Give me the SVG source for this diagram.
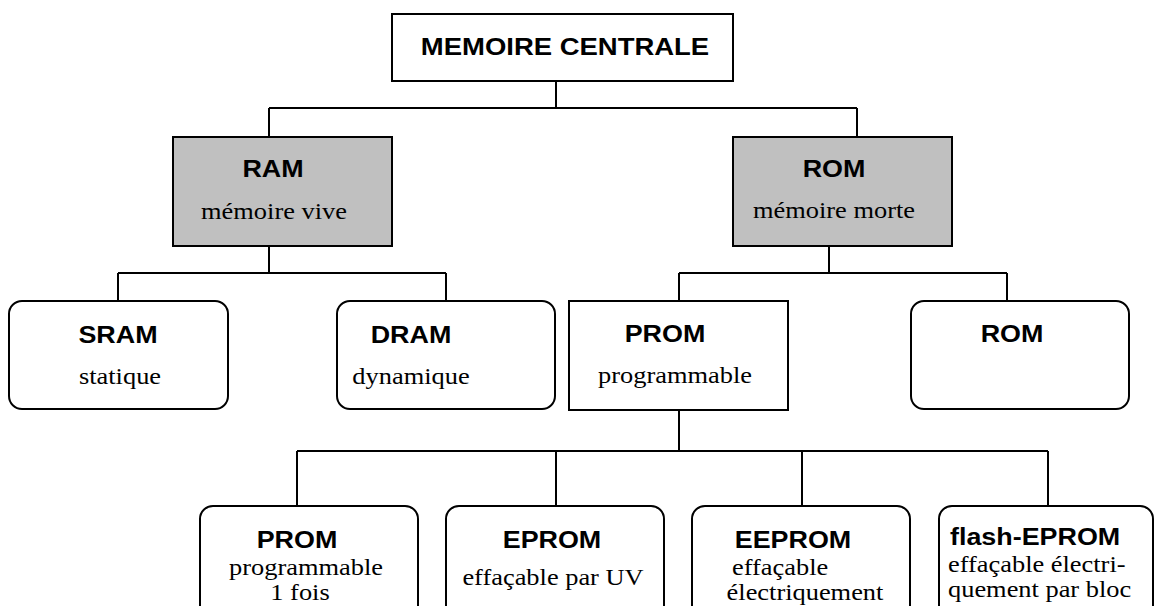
<svg xmlns="http://www.w3.org/2000/svg" width="1155" height="606" viewBox="0 0 1155 606">
  <style>
    .box { fill: #ffffff; stroke: #000000; stroke-width: 2; }
    .grey { fill: #c0c0c0; stroke: #000000; stroke-width: 2; }
    .wire { fill: none; stroke: #000000; stroke-width: 2; }
    .t { font-family: "Liberation Sans", Arial, sans-serif; font-weight: bold; font-size: 24px; fill: #000; }
    .s { font-family: "Liberation Serif", "Times New Roman", serif; font-size: 24px; fill: #000; }
    .c { text-anchor: middle; }
  </style>

  <!-- tree connectors -->
  <g id="connectors">
    <path class="wire" d="M556 81 V108 M269 108 H857 M269 108 V137 M857 108 V137"/>
    <path class="wire" d="M269 246 V273 M118 273 H446 M118 273 V301 M446 273 V301"/>
    <path class="wire" d="M829 246 V273 M679 273 H1007 M679 273 V301 M1007 273 V301"/>
    <path class="wire" d="M679 410 V451 M297 451 H1048 M297 451 V506 M556 451 V506 M802 451 V506 M1048 451 V506"/>
  </g>

  <g id="memoire-centrale">
    <rect class="box" x="392" y="14" width="341" height="67"/>
    <text class="t c" transform="matrix(1.145 0 0 1 565 54.5)">MEMOIRE CENTRALE</text>
  </g>

  <g id="ram">
    <rect class="grey" x="173" y="137" width="219" height="109"/>
    <text class="t c" transform="matrix(1.12 0 0 1 273 177)">RAM</text>
    <text class="s c" transform="matrix(1.1 0 0 1 274 219)">mémoire vive</text>
  </g>

  <g id="rom-main">
    <rect class="grey" x="733" y="137" width="219" height="109"/>
    <text class="t c" transform="matrix(1.12 0 0 1 834 177)">ROM</text>
    <text class="s c" transform="matrix(1.1 0 0 1 834 218)">mémoire morte</text>
  </g>

  <g id="sram">
    <rect class="box" x="9" y="301" width="219" height="108" rx="13"/>
    <text class="t c" transform="matrix(1.12 0 0 1 118 343)">SRAM</text>
    <text class="s c" transform="matrix(1.1 0 0 1 120 384)">statique</text>
  </g>

  <g id="dram">
    <rect class="box" x="337" y="301" width="218" height="108" rx="13"/>
    <text class="t c" transform="matrix(1.12 0 0 1 411 343)">DRAM</text>
    <text class="s c" transform="matrix(1.1 0 0 1 411 384)">dynamique</text>
  </g>

  <g id="prom">
    <rect class="box" x="569" y="301" width="219" height="109"/>
    <text class="t c" transform="matrix(1.12 0 0 1 665 342)">PROM</text>
    <text class="s c" transform="matrix(1.1 0 0 1 675 383)">programmable</text>
  </g>

  <g id="rom">
    <rect class="box" x="911" y="301" width="218" height="108" rx="13"/>
    <text class="t c" transform="matrix(1.12 0 0 1 1012 342)">ROM</text>
  </g>

  <g id="prom-otp">
    <rect class="box" x="200" y="506" width="218" height="130" rx="13"/>
    <text class="t c" transform="matrix(1.12 0 0 1 297 548)">PROM</text>
    <text class="s c" transform="matrix(1.1 0 0 1 306 575)">programmable</text>
    <text class="s c" transform="matrix(1.1 0 0 1 300 600)">1 fois</text>
  </g>

  <g id="eprom">
    <rect class="box" x="446" y="506" width="218" height="130" rx="13"/>
    <text class="t c" transform="matrix(1.12 0 0 1 552 548)">EPROM</text>
    <text class="s c" transform="matrix(1.1 0 0 1 553 585)">effaçable par UV</text>
  </g>

  <g id="eeprom">
    <rect class="box" x="692" y="506" width="218" height="130" rx="13"/>
    <text class="t c" transform="matrix(1.12 0 0 1 793 548)">EEPROM</text>
    <text class="s" transform="matrix(1.1 0 0 1 732 575)">effaçable</text>
    <text class="s c" transform="matrix(1.1 0 0 1 805 600)">électriquement</text>
  </g>

  <g id="flash-eprom">
    <rect class="box" x="939" y="506" width="214" height="130" rx="13"/>
    <text class="t" transform="matrix(1.12 0 0 1 950 545)">flash-EPROM</text>
    <text class="s" transform="matrix(1.1 0 0 1 948 572)">effaçable électri-</text>
    <text class="s" transform="matrix(1.1 0 0 1 948 597)">quement par bloc</text>
  </g>
</svg>
